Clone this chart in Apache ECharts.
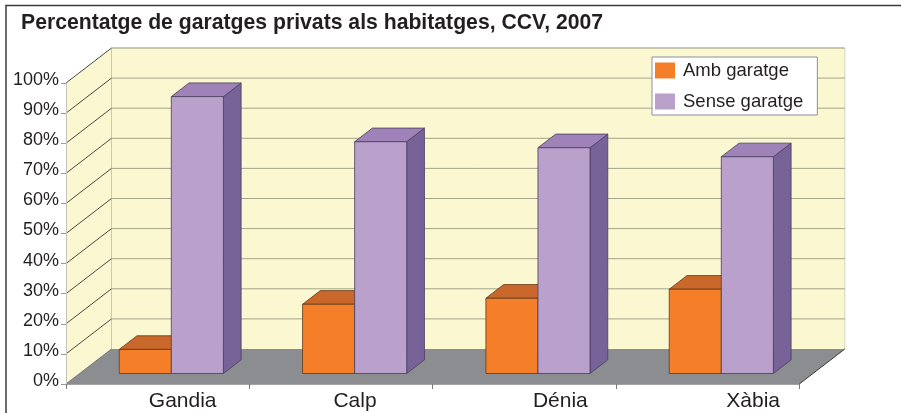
<!DOCTYPE html>
<html>
<head>
<meta charset="utf-8">
<style>
  html, body { margin: 0; padding: 0; background: #fff; }
  #chart { width: 901px; height: 413px; }
</style>
<script src="https://cdn.jsdelivr.net/npm/echarts@6/dist/echarts.min.js"></script>
</head>
<body>
<div id="chart"></div>
<script>
const categories = ['Gandia', 'Calp', 'Dénia', 'Xàbia']
const ambGaratge = [8, 23, 25, 28]
const senseGaratge = [92, 77, 75, 72]
const yTicks = [0, 10, 20, 30, 40, 50, 60, 70, 80, 90, 100]

// depth of the fake 3d box, in px
const DEPTH_X = 45.5
const DEPTH_Y = 35
const BAR_FRONT = 0.3
const BAR_BACK = 0.69
const BAR_WIDTH = 0.284 // part of one category
const labelShift = [25, 14, 36, 45.5]

const textColor = '#231f20'
const font = '"Liberation Sans", Arial, sans-serif'

function deep (p, t) {
  return [p[0] + DEPTH_X * t, p[1] - DEPTH_Y * t]
}

function poly (points, fill, stroke, lineWidth) {
  return {
    type: 'polygon',
    shape: { points },
    style: { fill, stroke: stroke || 'none', lineWidth: lineWidth || 0 }
  }
}

function line (a, b, stroke) {
  return {
    type: 'line',
    shape: { x1: a[0], y1: a[1], x2: b[0], y2: b[1] },
    style: { stroke, lineWidth: 1 }
  }
}

function renderWalls (params, api) {
  const a = api.coord([0, 0])
  const b = api.coord([4, 0])
  const top = api.coord([0, 100])
  const topB = api.coord([4, 100])
  return {
    type: 'group',
    children: [
      poly([a, deep(a, 1), deep(top, 1), top], '#faf7d1'),
      poly([deep(a, 1), deep(b, 1), deep(topB, 1), deep(top, 1)], '#faf7d1'),
      poly([a, b, deep(b, 1), deep(a, 1)], '#8c8d90'),
      line(deep(a, 1), deep(top, 1), '#c9c9b4'),
      line(deep(b, 1), deep(topB, 1), '#d4d4c0'),
      line(deep(top, 1), deep(topB, 1), '#d4d4c0'),
      line(b, deep(b, 1), '#3a3a3a')
    ]
  }
}

function renderGridLine (params, api) {
  const v = api.value(0)
  if (v === 0) return { type: 'group', children: [line(api.coord([0, 0]), deep(api.coord([0, 0]), 1), '#77787a')] }
  const a = api.coord([0, v])
  const b = api.coord([4, v])
  return {
    type: 'group',
    children: [
      line(a, deep(a, 1), '#4a4a44'),
      line(deep(a, 1), deep(b, 1), '#a5a588')
    ]
  }
}

function barRenderer (slot, front, topFace, sideFace, edge) {
  return function (params, api) {
    const i = api.value(0)
    const v = api.value(1)
    const left = i + 0.5 + (slot - 1) * BAR_WIDTH
    const right = left + BAR_WIDTH
    const bl = deep(api.coord([left, 0]), BAR_FRONT)
    const br = deep(api.coord([right, 0]), BAR_FRONT)
    const tl = deep(api.coord([left, v]), BAR_FRONT)
    const tr = deep(api.coord([right, v]), BAR_FRONT)
    const d = [DEPTH_X * (BAR_BACK - BAR_FRONT), -DEPTH_Y * (BAR_BACK - BAR_FRONT)]
    const mv = p => [p[0] + d[0], p[1] + d[1]]
    return {
      type: 'group',
      children: [
        poly([tr, br, mv(br), mv(tr)], sideFace, edge, 0.8),
        poly([tl, tr, mv(tr), mv(tl)], topFace, edge, 0.8),
        poly([bl, br, tr, tl], front, edge, 0.8)
      ]
    }
  }
}

const myChart = echarts.init(document.getElementById('chart'), null, { renderer: 'canvas' })

myChart.setOption({
  animation: false,
  backgroundColor: '#fff',
  textStyle: { fontFamily: font, color: textColor },
  grid: { left: 66, top: 83, width: 733.3, height: 301, containLabel: false },
  title: {
    text: 'Percentatge de garatges privats als habitatges, CCV, 2007',
    left: 21,
    top: 12.5,
    padding: 0,
    textStyle: { fontFamily: font, fontSize: 21.2, fontWeight: 'bold', color: textColor }
  },
  graphic: [{
    type: 'polyline',
    shape: { points: [[6, 413], [6, 5.5], [901, 5.5]] },
    style: { stroke: '#3c3a3b', lineWidth: 1.5, fill: 'none' }
  }],
  legend: {
    left: 652,
    top: 57,
    orient: 'vertical',
    padding: [4, 14, 4, 3],
    itemWidth: 20,
    itemHeight: 16,
    itemGap: 12,
    backgroundColor: '#fff',
    borderColor: '#8f8f9f',
    borderWidth: 1,
    data: [
      { name: 'Amb garatge', icon: 'rect' },
      { name: 'Sense garatge', icon: 'rect' }
    ],
    textStyle: { fontFamily: font, fontSize: 18.5, color: textColor, padding: [0, 0, 0, 3] }
  },
  xAxis: [{
    type: 'category',
    data: categories.map((c, i) => ({
      value: c,
      textStyle: { padding: [0, 0, 0, labelShift[i] * 2] }
    })),
    z: 3,
    axisLine: { lineStyle: { color: '#a3a3a3', width: 1 } },
    axisTick: { show: true, alignWithLabel: false, length: 5, lineStyle: { color: '#777' } },
    axisLabel: { fontFamily: font, fontSize: 21, color: textColor, margin: 7, interval: 0 }
  }, {
    type: 'value',
    min: 0,
    max: 4,
    show: false
  }],
  yAxis: {
    type: 'value',
    min: 0,
    max: 100,
    interval: 10,
    z: 3,
    splitLine: { show: false },
    axisLine: { show: true, lineStyle: { color: '#c4c4bc', width: 1 } },
    axisTick: { show: true, length: 5, lineStyle: { color: '#999' } },
    axisLabel: {
      fontFamily: font,
      fontSize: 18,
      color: textColor,
      margin: 7,
      verticalAlign: 'bottom',
      lineHeight: 6,
      formatter: '{value}%'
    }
  },
  series: [
    {
      type: 'custom',
      xAxisIndex: 1,
      silent: true,
      z: 1,
      data: [0],
      renderItem: renderWalls
    },
    {
      type: 'custom',
      xAxisIndex: 1,
      silent: true,
      z: 1,
      encode: { y: 0 },
      data: yTicks.map(v => [v]),
      renderItem: renderGridLine
    },
    {
      name: 'Amb garatge',
      type: 'custom',
      xAxisIndex: 1,
      z: 2,
      itemStyle: { color: '#f57f29' },
      data: ambGaratge.map((v, i) => [i, v]),
      renderItem: barRenderer(0, '#f57f29', '#c9682a', '#b05a20', '#5e3a1c')
    },
    {
      name: 'Sense garatge',
      type: 'custom',
      xAxisIndex: 1,
      z: 2,
      itemStyle: { color: '#b9a1cc' },
      data: senseGaratge.map((v, i) => [i, v]),
      renderItem: barRenderer(1, '#b9a1cc', '#9e82b8', '#776397', '#473c5e')
    }
  ]
})

window.addEventListener('resize', function () {
  myChart.resize()
})
</script>
</body>
</html>
